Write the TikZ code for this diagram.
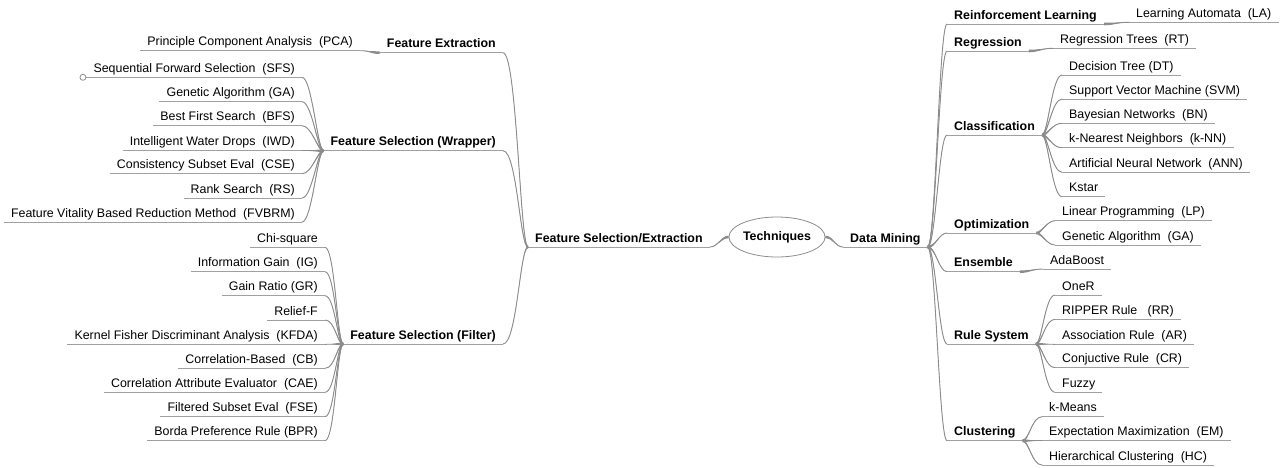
\documentclass[tikz,border=0pt]{standalone}
\usepackage{fontspec}
\setmainfont{Liberation Sans}
\usetikzlibrary{calc,shapes.geometric}
\definecolor{conncol}{RGB}{140,140,140}
\definecolor{ulcol}{RGB}{160,160,160}
\tikzset{
  base/.style={font=\fontsize{12.4}{14}\selectfont, inner xsep=7pt, inner ysep=0pt,
    text height=9.5pt, text depth=4.8pt},
  ul/.style={append after command={(\tikzlastnode.south west) edge[draw=ulcol, line width=1pt] (\tikzlastnode.south east)}},
  leafR/.style={base, ul, anchor=south west},
  leafL/.style={base, ul, anchor=south east},
  brR/.style={leafR, font=\fontsize{12.4}{14}\selectfont\bfseries},
  brL/.style={leafL, font=\fontsize{12.4}{14}\selectfont\bfseries},
  connline/.style={draw=conncol, line width=0.9pt},
  knob/.style={circle, draw=conncol, fill=white, line width=0.8pt, minimum size=6pt, inner sep=0pt},
  root/.style={ellipse, draw=conncol, line width=0.8pt, minimum width=90pt, minimum height=40pt,
    inner sep=0pt, font=\fontsize{12.4}{14}\selectfont\bfseries}
}
\newcommand\conn[4]{%
  \fill[conncol] ($(#1)+(0,1.3)$) .. controls ($(#1)+(#3,1.3)$) and ($(#2)+(#4,0)$) .. (#2)
     .. controls ($(#2)+(#4,0)$) and ($(#1)+(#3,-1.3)$) .. ($(#1)+(0,-1.3)$) -- cycle;
  \draw[connline] (#1) .. controls ($(#1)+(#3,0)$) and ($(#2)+(#4,0)$) .. (#2);
}
\begin{document}
\begin{tikzpicture}[x=1pt,y=-1pt]
\useasboundingbox (0,0) rectangle (1286,467);
% root
\node[root] (tech) at (777,237) {Techniques};
% left side
\node[brL, anchor=south west] (fse) at (528,247) {Feature Selection/Extraction};
\node[brL] (fe) at (503,52.7) {Feature Extraction};
\node[brL] (wr) at (503,150.7) {Feature Selection (Wrapper)};
\node[brL] (fi) at (503,344) {Feature Selection (Filter)};
\node[leafL] (pca) at (360,50.7) {Principle Component Analysis\ \ (PCA)};
% wrapper leaves
\node[leafL] (sfs) at (302,77.3) {Sequential Forward Selection\ \ (SFS)};
\node[leafL] (gaw) at (302,101.7) {Genetic Algorithm (GA)};
\node[leafL] (bfs) at (302,125.7) {Best First Search\ \ (BFS)};
\node[leafL] (iwd) at (302,150.7) {Intelligent Water Drops\ \ (IWD)};
\node[leafL] (cse) at (302,173.7) {Consistency Subset Eval\ \ (CSE)};
\node[leafL] (rs) at (302,198) {Rank Search\ \ (RS)};
\node[leafL] (fvb) at (302,222) {Feature Vitality Based Reduction Method\ \ (FVBRM)};
\node[knob, anchor=east] (sfsknob) at (sfs.south west) {};
% filter leaves
\node[leafL] (chi) at (325,247.3) {Chi-square};
\node[leafL] (ig) at (325,271.7) {Information Gain\ \ (IG)};
\node[leafL] (gr) at (325,295.7) {Gain Ratio (GR)};
\node[leafL] (rel) at (325,320) {Relief-F};
\node[leafL] (kfda) at (325,344) {Kernel Fisher Discriminant Analysis\ \ (KFDA)};
\node[leafL] (cb) at (325,368.3) {Correlation-Based\ \ (CB)};
\node[leafL] (cae) at (325,392.3) {Correlation Attribute Evaluator\ \ (CAE)};
\node[leafL] (fsel) at (325,416.7) {Filtered Subset Eval\ \ (FSE)};
\node[leafL] (bpr) at (325,440.7) {Borda Preference Rule (BPR)};
% right side
\node[brR] (dm) at (843,247) {Data Mining};
\node[brR] (rl) at (947,24) {Reinforcement Learning};
\node[brR] (reg) at (947,51) {Regression};
\node[brR] (cla) at (947,135) {Classification};
\node[brR] (opt) at (947,233) {Optimization};
\node[brR] (ens) at (947,271.7) {Ensemble};
\node[brR] (rul) at (947,344) {Rule System};
\node[brR] (clu) at (947,440.7) {Clustering};
\node[leafR] (la) at (1129,22.3) {Learning Automata\ \ (LA)};
\node[leafR] (rt) at (1053,48.3) {Regression Trees\ \ (RT)};
\node[leafR] (dt) at (1062,75) {Decision Tree (DT)};
\node[leafR] (svm) at (1062,99) {Support Vector Machine (SVM)};
\node[leafR] (bn) at (1062,123.3) {Bayesian Networks\ \ (BN)};
\node[leafR] (knn) at (1062,147.7) {k-Nearest Neighbors\ \ (k-NN)};
\node[leafR] (ann) at (1062,172.3) {Artificial Neural Network\ \ (ANN)};
\node[leafR] (ks) at (1062,196.7) {Kstar};
\node[leafR] (lp) at (1055,220.7) {Linear Programming\ \ (LP)};
\node[leafR] (gao) at (1055,245) {Genetic Algorithm\ \ (GA)};
\node[leafR] (ada) at (1043,269) {AdaBoost};
\node[leafR] (oner) at (1055,295) {OneR};
\node[leafR] (rr) at (1055,319.3) {RIPPER Rule\ \ \ (RR)};
\node[leafR] (ar) at (1055,344) {Association Rule\ \ (AR)};
\node[leafR] (cr) at (1055,367.7) {Conjuctive Rule\ \ (CR)};
\node[leafR] (fz) at (1055,392.3) {Fuzzy};
\node[leafR] (km) at (1042,416.7) {k-Means};
\node[leafR] (em) at (1042,440.7) {Expectation Maximization\ \ (EM)};
\node[leafR] (hc) at (1042,465) {Hierarchical Clustering\ \ (HC)};
% connectors: root
\conn{tech.west}{fse.south east}{-8}{8}
\conn{tech.east}{dm.south west}{8}{-8}
% left trunk
\foreach \c in {fe,wr,fi} {\conn{fse.south west}{\c.south east}{-8}{14}}
\conn{fe.south west}{pca.south east}{-10}{10}
\foreach \c in {sfs,gaw,bfs,iwd,cse,rs,fvb} {\conn{wr.south west}{\c.south east}{-6}{10}}
\foreach \c in {chi,ig,gr,rel,kfda,cb,cae,fsel,bpr} {\conn{fi.south west}{\c.south east}{-6}{10}}
% right trunk
\foreach \c in {rl,reg,cla,opt,ens,rul,clu} {\conn{dm.south east}{\c.south west}{8}{-8}}
\conn{rl.south east}{la.south west}{10}{-10}
\conn{reg.south east}{rt.south west}{10}{-10}
\foreach \c in {dt,svm,bn,knn,ann,ks} {\conn{cla.south east}{\c.south west}{6}{-10}}
\foreach \c in {lp,gao} {\conn{opt.south east}{\c.south west}{5}{-8}}
\conn{ens.south east}{ada.south west}{10}{-10}
\foreach \c in {oner,rr,ar,cr,fz} {\conn{rul.south east}{\c.south west}{6}{-10}}
\foreach \c in {km,em,hc} {\conn{clu.south east}{\c.south west}{6}{-10}}
\end{tikzpicture}
\end{document}
